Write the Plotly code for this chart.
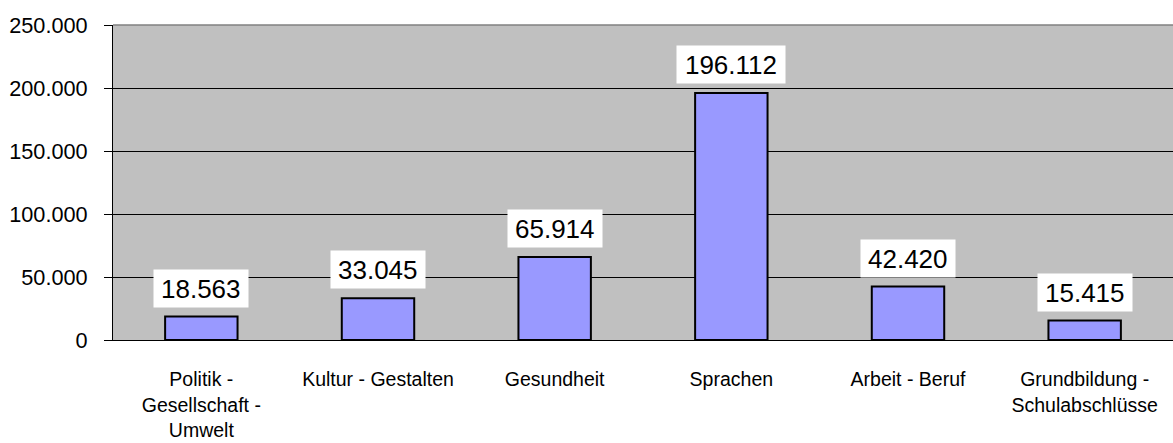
import plotly.graph_objects as go

categories = ["Politik -<br>Gesellschaft -<br>Umwelt", "Kultur - Gestalten", "Gesundheit",
              "Sprachen", "Arbeit - Beruf", "Grundbildung -<br>Schulabschlüsse"]
values = [18563, 33045, 65914, 196112, 42420, 15415]
y_ticks = [0, 50000, 100000, 150000, 200000, 250000]

def de_fmt(v):
    return f"{v:,}".replace(",", ".")

LABEL_SIZE = 26

fig = go.Figure()
fig.add_trace(go.Bar(
    x=categories, y=values,
    marker=dict(color="#9999FF", line=dict(color="black", width=2)),
    width=0.41,
))

for c, v in zip(categories, values):
    txt = de_fmt(v)
    n_digits = sum(ch.isdigit() for ch in txt)
    w = LABEL_SIZE * (0.556 * n_digits + 0.278) + 8
    fig.add_annotation(
        x=c, y=v, text=txt, showarrow=False,
        yanchor="bottom", yshift=9,
        font=dict(family="Liberation Sans, Arial", size=LABEL_SIZE, color="black"),
        bgcolor="white", borderpad=3, width=w, height=31,
    )

fig.add_shape(type="line", xref="paper", yref="y domain", x0=0, x1=1, y0=1, y1=1,
              line=dict(color="#808080", width=1.5))

fig.update_layout(
    width=1173, height=443,
    margin=dict(l=113, r=0, t=25, b=103),
    paper_bgcolor="white", plot_bgcolor="#C0C0C0",
    showlegend=False,
    font=dict(family="Liberation Sans, Arial", color="black"),
)
fig.update_yaxes(
    range=[0, 250000], tickvals=y_ticks, ticktext=[de_fmt(t) for t in y_ticks],
    showgrid=True, gridcolor="black", gridwidth=1,
    showline=True, linecolor="black", linewidth=1,
    ticks="outside", ticklen=8, tickcolor="black",
    tickfont=dict(size=21.7), ticklabelstandoff=12,
    zeroline=False, automargin=False,
)
fig.update_xaxes(
    showline=True, linecolor="black", linewidth=1,
    tickfont=dict(size=19.5), ticks="", ticklabelstandoff=22,
    showgrid=False, automargin=False,
)

fig.write_html("out.html", config={"displayModeBar": False},
               post_script="document.body.style.margin='0px';document.body.style.overflow='hidden';")
